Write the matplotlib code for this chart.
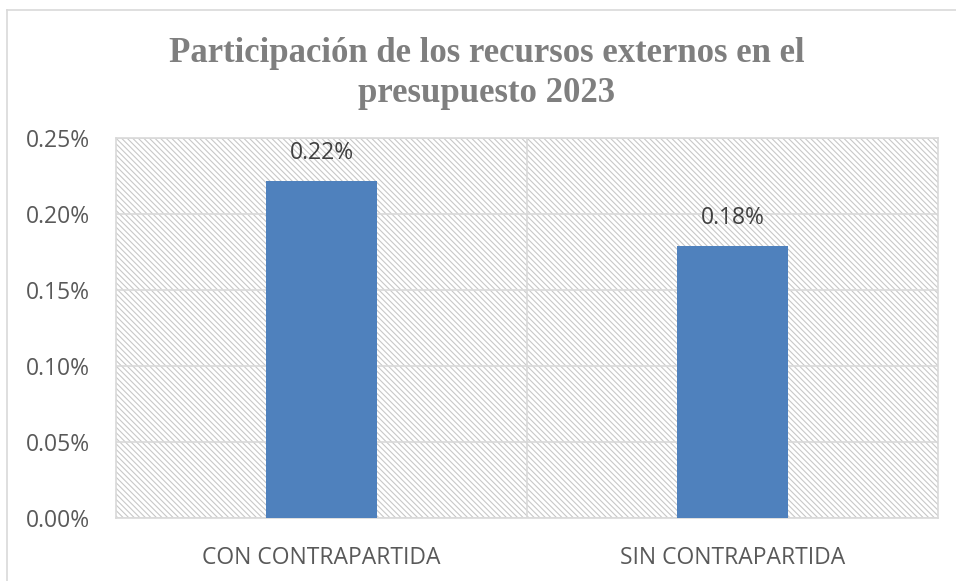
import matplotlib
matplotlib.use("Agg")
import matplotlib.pyplot as plt
from matplotlib.patches import Rectangle
from matplotlib.lines import Line2D

categories = ["CON CONTRAPARTIDA", "SIN CONTRAPARTIDA"]
values = [0.222, 0.179]          # in percent
value_labels = ["0.22%", "0.18%"]
y_ticks = [0.00, 0.05, 0.10, 0.15, 0.20, 0.25]

plt.rcParams['hatch.linewidth'] = 0.8

fig = plt.figure(figsize=(9.56, 5.81), dpi=100)

# outer chart frame (only left/top visible in the crop)
fig.add_artist(Line2D([7 / 956, 7 / 956], [0, 1 - 10 / 581], transform=fig.transFigure,
                      color='#D9D9D9', lw=1.2))
fig.add_artist(Line2D([7 / 956, 1], [1 - 10 / 581, 1 - 10 / 581], transform=fig.transFigure,
                      color='#D9D9D9', lw=1.2))

ax = fig.add_axes([116 / 956, 1 - 518 / 581, (938 - 116) / 956, (518 - 138) / 581])

# hatched plot area
ax.add_patch(Rectangle((0, 0), 1, 1, transform=ax.transAxes, facecolor='white',
                       edgecolor='#C8C8C8', hatch='\\' * 6, lw=0, zorder=0))

x = list(range(len(categories)))
ax.bar(x, values, width=0.27, color='#4F81BD', zorder=3)

for xi, v, lab in zip(x, values, value_labels):
    ax.text(xi, v + 0.0105, lab, ha='center', va='bottom', fontsize=16.5,
            family='Open Sans', color='#404040', zorder=4)

ax.set_xlim(-0.5, 1.5)
ax.set_ylim(0, 0.25)
ax.set_yticks(y_ticks)
ax.set_yticklabels([f"{t:.2f}%" for t in y_ticks])
ax.set_xticks(x)
ax.set_xticklabels(categories)
ax.grid(axis='y', color='#D9D9D9', lw=1.2, zorder=1)
ax.axvline(0.5, color='#D9D9D9', lw=1.2, zorder=1)

for s in ax.spines.values():
    s.set_color('#D9D9D9')
    s.set_linewidth(1.2)

ax.tick_params(axis='both', length=0, labelsize=16.5, labelcolor='#595959')
ax.tick_params(axis='y', pad=19)
ax.tick_params(axis='x', pad=20)
for t in ax.get_xticklabels() + ax.get_yticklabels():
    t.set_family('Open Sans')

fig.text(487 / 956, 1 - 73 / 581,
         "Participación de los recursos externos en el\npresupuesto 2023",
         ha='center', va='center', fontsize=25, fontweight='bold',
         family='Liberation Serif', color='#7F7F7F', linespacing=1.28)

fig.savefig("out.png", dpi=100)
